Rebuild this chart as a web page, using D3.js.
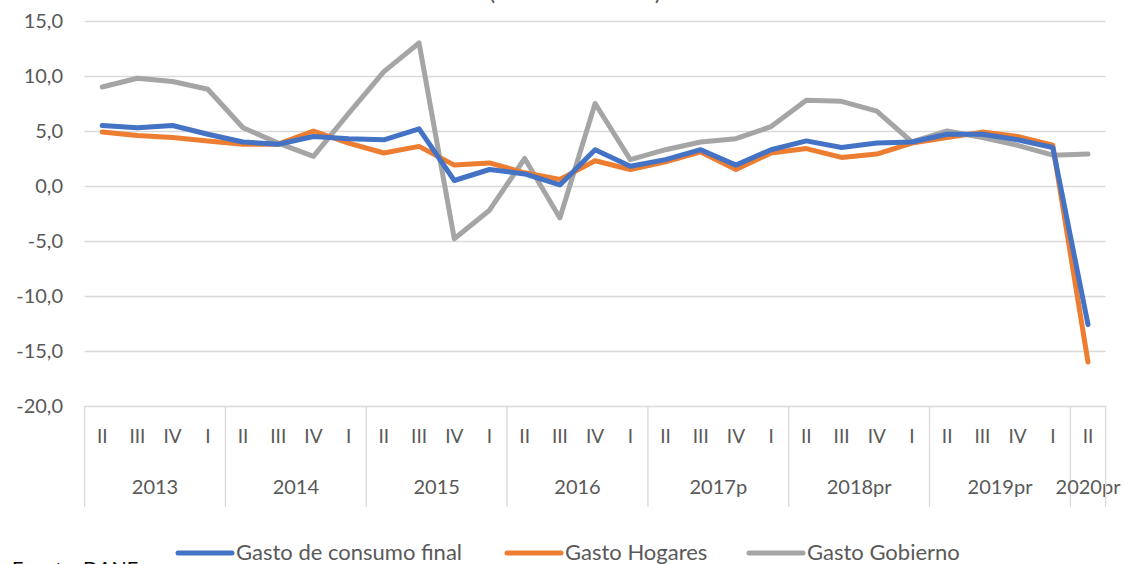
<!DOCTYPE html>
<html>
<head>
<meta charset="utf-8">
<script src="https://cdn.jsdelivr.net/npm/d3@7"></script>
<style>
  body { margin: 0; background: #fff; }
  svg { font-family: Lato, "Open Sans", sans-serif; }
</style>
</head>
<body>
<div id="chart"></div>
<script>
// quarters per point, year groups and series (variacion anual, %)
var quarters = ['II','III','IV','I','II','III','IV','I','II','III','IV','I','II','III','IV','I',
                'II','III','IV','I','II','III','IV','I','II','III','IV','I','II'];
var years = ['2013','2014','2015','2016','2017p','2018pr','2019pr','2020pr'];
var yearSizes = [4,4,4,4,4,4,4,1];
var consumoFinal = [5.5,5.3,5.5,4.7,4.0,3.8,4.5,4.3,4.2,5.2,0.5,1.5,1.1,0.1,3.3,1.8,2.4,3.3,1.9,3.3,4.1,3.5,3.9,4.0,4.7,4.7,4.2,3.5,-12.6];
var hogares = [4.9,4.6,4.4,4.1,3.8,3.8,5.0,3.9,3.0,3.6,1.9,2.1,1.2,0.6,2.3,1.5,2.2,3.1,1.5,3.0,3.4,2.6,2.9,3.9,4.4,4.9,4.5,3.7,-16.0];
var gobierno = [9.0,9.8,9.5,8.8,5.3,3.9,2.7,6.6,10.4,13.0,-4.8,-2.2,2.5,-2.9,7.5,2.4,3.3,4.0,4.3,5.4,7.8,7.7,6.8,4.0,5.0,4.4,3.7,2.8,2.9];
var yTicks = [-20,-15,-10,-5,0,5,10,15];

var seriesNames = ['Gasto de consumo final','Gasto Hogares','Gasto Gobierno'];
var seriesData = [consumoFinal, hogares, gobierno];
var colors = ['#4472C4','#ED7D31','#A5A5A5'];

var W = 1124, H = 564;
var plotLeft = 84.6, plotRight = 1105.6, plotTop = 21, plotBottom = 406;

var svg = d3.select('#chart').append('svg').attr('width', W).attr('height', H);

var keys = quarters.map(function(q, i) { return i; });
var x = d3.scaleBand().domain(keys).range([plotLeft, plotRight]).padding(0);
var y = d3.scaleLinear().domain([-20, 15]).range([plotBottom, plotTop]);

// gridlines
var grid = svg.append('g').attr('transform', 'translate(' + plotLeft + ',0)')
  .call(d3.axisLeft(y).tickValues(yTicks).tickSize(-(plotRight - plotLeft)).tickFormat(''));
grid.select('.domain').remove();
grid.selectAll('line').attr('stroke', '#D9D9D9').attr('stroke-width', 1.3);

// y labels
var yAx = svg.append('g').attr('transform', 'translate(63,0)')
  .call(d3.axisLeft(y).tickValues(yTicks).tickSize(0).tickPadding(0)
    .tickFormat(function(d) { return d3.format('.1f')(d).replace('.', ',').replace('−', '-'); }));
yAx.select('.domain').remove();
yAx.selectAll('text').attr('font-size', 20).attr('fill', '#595959').attr('font-family', 'Lato, sans-serif');

// quarter labels
var qAx = svg.append('g').attr('transform', 'translate(0,' + plotBottom + ')')
  .call(d3.axisBottom(x).tickSize(0).tickPadding(24).tickFormat(function(d) { return quarters[d]; }));
qAx.select('.domain').remove();
qAx.selectAll('text').attr('font-size', 19).attr('fill', '#595959').attr('font-family', 'Lato, sans-serif');

// year groups
var start = 0;
var sep = svg.append('g');
years.forEach(function(yr, j) {
  var x0 = x(start), x1 = x(start + yearSizes[j] - 1) + x.bandwidth();
  sep.append('line').attr('x1', x0).attr('x2', x0).attr('y1', plotBottom).attr('y2', 507)
    .attr('stroke', '#D9D9D9').attr('stroke-width', 1.3);
  sep.append('text').attr('x', (x0 + x1) / 2).attr('y', 494)
    .attr('text-anchor', 'middle').attr('font-size', 20).attr('fill', '#595959')
    .text(yr);
  start += yearSizes[j];
});
sep.append('line').attr('x1', plotRight).attr('x2', plotRight).attr('y1', plotBottom).attr('y2', 507)
  .attr('stroke', '#D9D9D9').attr('stroke-width', 1.3);

// lines
var line = d3.line()
  .x(function(d, i) { return x(i) + x.bandwidth() / 2; })
  .y(function(d) { return y(d); });

[2, 1, 0].forEach(function(k) {
  svg.append('path')
    .attr('d', line(seriesData[k]))
    .attr('fill', 'none')
    .attr('stroke', colors[k])
    .attr('stroke-width', 5)
    .attr('stroke-linejoin', 'round')
    .attr('stroke-linecap', 'round');
});

// legend
var legendX = [178, 507, 749];
seriesNames.forEach(function(name, k) {
  var g = svg.append('g').attr('transform', 'translate(' + legendX[k] + ',553)');
  g.append('line').attr('x1', 0).attr('x2', 54).attr('y1', 0).attr('y2', 0)
    .attr('stroke', colors[k]).attr('stroke-width', 5).attr('stroke-linecap', 'round');
  g.append('text').attr('x', 58).attr('y', 7).attr('font-size', 22).attr('fill', '#595959').text(name);
});

// title (cut off at top) and source
svg.append('text').attr('x', 575).attr('y', 0).attr('text-anchor', 'middle')
  .attr('font-size', 24).attr('fill', '#595959').text('(Variación anual)');
svg.append('text').attr('x', 12).attr('y', 576).attr('font-size', 20)
  .attr('fill', '#000').text('Fuente: DANE');
</script>
</body>
</html>
